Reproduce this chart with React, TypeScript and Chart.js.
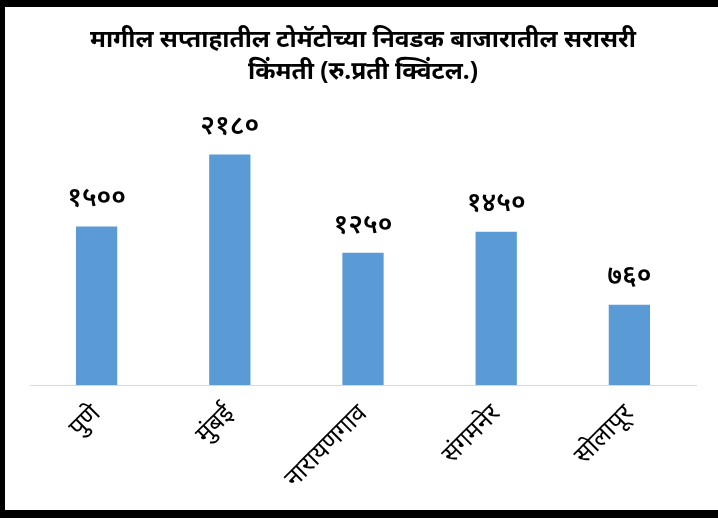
import React, { useEffect, useRef } from "react";
import { Chart, registerables } from "chart.js";

Chart.register(...registerables);

const categories = ["पुणे", "मुंबई", "नारायणगाव", "संगमनेर", "सोलापूर"];
const prices = [1500, 2180, 1250, 1450, 760];
const titleLines = [
  "मागील सप्ताहातील टोमॅटोच्या निवडक बाजारातील सरासरी",
  "किंमती (रु.प्रती क्विंटल.)",
];

const devDigits = ["०", "१", "२", "३", "४", "५", "६", "७", "८", "९"];
const toDev = (n: number) =>
  String(n)
    .split("")
    .map((c) => (c >= "0" && c <= "9" ? devDigits[+c] : c))
    .join("");

const FONT = "'Noto Sans', 'Noto Sans Devanagari', 'Lohit Devanagari', sans-serif";

const labelPlugin = {
  id: "barLabels",
  afterDatasetsDraw(chart: any) {
    const ctx = chart.ctx;
    const meta = chart.getDatasetMeta(0);
    ctx.save();
    ctx.fillStyle = "#000";
    ctx.font = `600 27px ${FONT}`;
    ctx.textAlign = "center";
    ctx.textBaseline = "middle";
    meta.data.forEach((bar: any, i: number) => {
      ctx.fillText(toDev(prices[i]), bar.x, bar.y - 28);
    });
    ctx.restore();
  },
};

export default function App() {
  const ref = useRef<HTMLCanvasElement>(null);
  useEffect(() => {
    document.body.style.margin = "0";
    const chart = new Chart(ref.current!, {
      type: "bar",
      data: {
        labels: categories,
        datasets: [
          {
            data: prices,
            backgroundColor: "#5B9BD5",
            categoryPercentage: 1,
            barPercentage: 0.31,
          },
        ],
      },
      options: {
        animation: false,
        responsive: false,
        layout: { padding: { left: 25, right: 22, top: 0, bottom: 0 } },
        plugins: {
          legend: { display: false },
          tooltip: { enabled: false },
          title: {
            display: true,
            text: titleLines,
            color: "#000",
            font: { family: FONT, size: 24.5, weight: "bold", lineHeight: 1.3 },
            padding: { top: 17, bottom: 33 },
          },
        },
        scales: {
          x: {
            grid: { display: false, drawTicks: false },
            border: { display: true, color: "#d9d9d9", width: 1 },
            ticks: {
              color: "#000",
              font: { family: FONT, size: 25 },
              minRotation: 45,
              maxRotation: 45,
              padding: 14,
            },
            afterFit: (s: any) => {
              s.height = 125;
            },
          },
          y: {
            display: false,
            min: 0,
            max: 2500,
          },
        },
      },
      plugins: [labelPlugin],
    });
    return () => chart.destroy();
  }, []);
  return (
    <div
      style={{
        position: "absolute",
        left: 0,
        top: 0,
        width: 713,
        height: 503,
        borderTop: "7px solid #000",
        borderLeft: "5px solid #000",
        borderBottom: "8px solid #000",
        background: "#fff",
      }}
    >
      <canvas ref={ref} width={713} height={503} style={{ display: "block" }} />
    </div>
  );
}
